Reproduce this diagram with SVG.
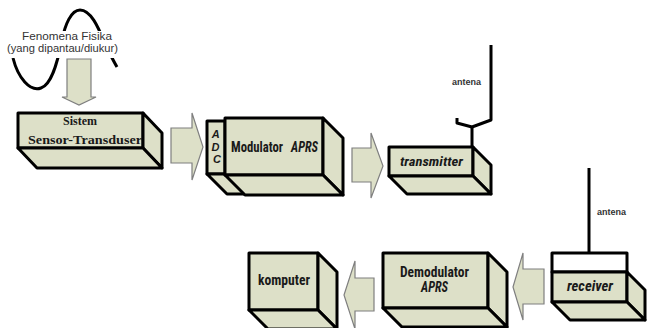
<svg xmlns="http://www.w3.org/2000/svg" width="653" height="328" viewBox="0 0 653 328">
  <style>
    .face { fill: #dde0c8; stroke: #000; stroke-width: 3; stroke-linejoin: round; }
    .white { fill: #fff; stroke: #000; stroke-width: 3; stroke-linejoin: round; }
    .arrow { fill: #dde0c8; stroke: #7f7f7f; stroke-width: 1.2; stroke-linejoin: miter; }
    .wire { fill: none; stroke: #000; stroke-width: 3; stroke-linejoin: round; }
    .cond { font-family: "Roboto Condensed", "Liberation Sans Narrow", "DejaVu Sans Condensed", Roboto, sans-serif; font-weight: bold; fill: #1a1a1a; }
    .serif { font-family: "Liberation Serif", "Times New Roman", serif; font-weight: bold; fill: #1a1a1a; }
    .small { font-family: "Liberation Sans", Arial, sans-serif; fill: #333; }
  </style>

  <!-- physical phenomenon: sine wave with caption -->
  <g id="phenomenon">
    <path class="wire" d="M13,58 C18,78 30,92 41,88 C51,85 57,65 62,40 C65,25 71,10 80,10 C93,10 101,35 107,48 C111,56 114,62 117,67"/>
    <rect x="6" y="31" width="114" height="27" fill="#fff"/>
    <text class="small" font-size="10.5" x="22" y="40" textLength="90" lengthAdjust="spacingAndGlyphs">Fenomena Fisika</text>
    <text class="small" font-size="10.5" x="7" y="52" textLength="111" lengthAdjust="spacingAndGlyphs">(yang dipantau/diukur)</text>
  </g>

  <g id="sensor">
    <rect class="face" x="18" y="113" width="125" height="35"/>
    <polygon class="face" points="143,113 162,133 162,168 143,148"/>
    <polygon class="face" points="18,148 143,148 162,168 37,168"/>
    <text class="serif" font-size="12" x="80" y="125" text-anchor="middle">Sistem</text>
    <text class="serif" font-size="12" x="28" y="144" textLength="114" lengthAdjust="spacingAndGlyphs">Sensor-Transduser</text>
  </g>

  <g id="adc">
    <rect class="face" x="207" y="121" width="18" height="53"/>
    <polygon class="face" points="207,174 225,174 245,194 227,194"/>
    <text font-family="'Liberation Sans', Arial, sans-serif" font-weight="bold" font-style="italic" font-size="11" fill="#1a1a1a" text-anchor="middle">
      <tspan x="217" y="138">A</tspan>
      <tspan x="217" y="151">D</tspan>
      <tspan x="217" y="163">C</tspan>
    </text>
  </g>

  <g id="modulator">
    <rect class="face" x="225" y="118" width="98" height="57"/>
    <polygon class="face" points="323,118 343,138 343,195 323,175"/>
    <polygon class="face" points="225,175 323,175 343,195 245,195"/>
    <text class="cond" font-size="15" x="231" y="152" textLength="52" lengthAdjust="spacingAndGlyphs">Modulator</text>
    <text class="cond" font-size="15" font-style="italic" font-weight="normal" x="291" y="152" textLength="27" lengthAdjust="spacingAndGlyphs">APRS</text>
  </g>

  <g id="transmitter">
    <polyline class="wire" points="491,45 491,120 472,127 457,123 457,118"/>
    <line class="wire" x1="472" y1="127" x2="472" y2="147"/>
    <text class="small" font-size="9" font-weight="bold" fill="#222" x="452" y="85">antena</text>
    <rect class="face" x="389" y="147" width="84" height="29"/>
    <polygon class="face" points="473,147 491,165 491,194 473,176"/>
    <polygon class="face" points="389,176 473,176 491,194 407,194"/>
    <text class="cond" font-size="13" font-style="italic" x="400" y="166" textLength="63" lengthAdjust="spacingAndGlyphs">transmitter</text>
  </g>

  <g id="receiver">
    <line class="wire" x1="589" y1="168" x2="589" y2="253"/>
    <text class="small" font-size="9" font-weight="bold" fill="#222" x="597" y="215">antena</text>
    <rect class="white" x="552" y="253" width="75" height="19"/>
    <rect class="face" x="552" y="272" width="75" height="30"/>
    <polygon class="face" points="627,272 645,290 645,320 627,302"/>
    <polygon class="face" points="552,302 627,302 645,320 570,320"/>
    <text class="cond" font-size="14" font-style="italic" x="567" y="291" textLength="46" lengthAdjust="spacingAndGlyphs">receiver</text>
  </g>

  <g id="demodulator">
    <rect class="face" x="383" y="253" width="105" height="55"/>
    <polygon class="face" points="488,253 507,272 507,327 488,308"/>
    <polygon class="face" points="383,308 488,308 507,327 402,327"/>
    <text class="cond" font-size="14" x="400" y="277" textLength="69" lengthAdjust="spacingAndGlyphs">Demodulator</text>
    <text class="cond" font-size="14" font-style="italic" x="421" y="292" textLength="27" lengthAdjust="spacingAndGlyphs">APRS</text>
  </g>

  <g id="komputer">
    <rect class="face" x="249" y="253" width="69" height="57"/>
    <polygon class="face" points="318,253 337,272 337,329 318,310"/>
    <polygon class="face" points="249,310 318,310 337,329 268,329"/>
    <text class="cond" font-size="14" x="258" y="285" textLength="52" lengthAdjust="spacingAndGlyphs">komputer</text>
  </g>

  <!-- block arrows between stages -->
  <g id="connectors">
    <path class="arrow" d="M67,59 H91 V97 H96 L79,105 L62,97 H67 Z"/>
    <path class="arrow" d="M171,128 H192 V113 L203,147 L192,180 V163 H171 Z"/>
    <path class="arrow" d="M352,148 H371 V133 L383,166 L371,198 V182 H352 Z"/>
    <path class="arrow" d="M544,269 H523 V253 L513,287 L523,320 V304 H544 Z"/>
    <path class="arrow" d="M374,278 H355 V261 L344,295 L355,329 V311 H374 Z"/>
  </g>
</svg>
